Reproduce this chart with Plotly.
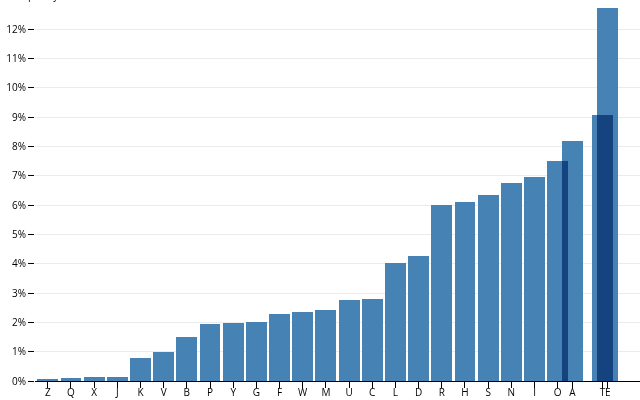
import plotly.graph_objects as go

# English letter frequencies
letters = ["A", "B", "C", "D", "E", "F", "G", "H", "I", "J", "K", "L", "M",
           "N", "O", "P", "Q", "R", "S", "T", "U", "V", "W", "X", "Y", "Z"]
frequency = [0.08167, 0.01492, 0.02782, 0.04253, 0.12702, 0.02288, 0.02015,
             0.06094, 0.06966, 0.00153, 0.00772, 0.04025, 0.02406, 0.06749,
             0.07507, 0.01929, 0.00095, 0.05987, 0.06327, 0.09056, 0.02758,
             0.00978, 0.02360, 0.00150, 0.01974, 0.00074]

# Bars still moving in the sort transition (current band slot, fractional)
moving_slot = {"A": 22.63, "T": 23.93, "E": 24.16}

# ascending order by frequency
order = sorted(range(len(letters)), key=lambda i: frequency[i])
slot = {letters[i]: r for r, i in enumerate(order)}
slot.update(moving_slot)

xs = [slot[letters[i]] for i in order]
ys = [frequency[i] for i in order]
labels = [letters[i] for i in order]

fig = go.Figure(go.Bar(
    x=xs, y=ys, width=0.9,
    marker=dict(color="steelblue", line=dict(width=0)),
    hoverinfo="skip",
))

fig.update_layout(
    width=640, height=400,
    margin=dict(l=35, r=0, t=0, b=19, autoexpand=False),
    plot_bgcolor="white", paper_bgcolor="white",
    showlegend=False,
    font=dict(family="Open Sans, sans-serif", size=10, color="black"),
    bargap=0,
)
fig.update_xaxes(
    range=[-0.55, 25.55], automargin=False,
    tickmode="array", tickvals=xs, ticktext=labels, tickangle=0,
    ticks="outside", ticklen=6, tickcolor="black", tickwidth=1,
    ticklabelstandoff=-4,
    showline=True, linecolor="black", linewidth=1,
    showgrid=False, zeroline=False,
    tickfont=dict(size=10),
)
fig.update_yaxes(
    range=[0, 0.1299], automargin=False,
    dtick=0.01, tickformat=".0%",
    ticks="outside", ticklen=6, tickcolor="black", tickwidth=1,
    showline=False, showgrid=True, gridcolor="rgba(0,0,0,0.08)",
    zeroline=False,
    tickfont=dict(size=10),
)
fig.add_annotation(
    text="↑ Frequency", xref="paper", yref="paper", x=0, y=1,
    xanchor="left", yanchor="bottom", xshift=-35, yshift=-4,
    showarrow=False, font=dict(size=10, color="black"),
)

post = """
document.body.style.margin = '0';
document.body.style.overflow = 'hidden';
document.querySelectorAll('.bars .point path').forEach(function(p){
  p.style.mixBlendMode = 'multiply';
});
"""
fig.write_html("out.html", post_script=post,
               config={"displayModeBar": False, "staticPlot": True})
